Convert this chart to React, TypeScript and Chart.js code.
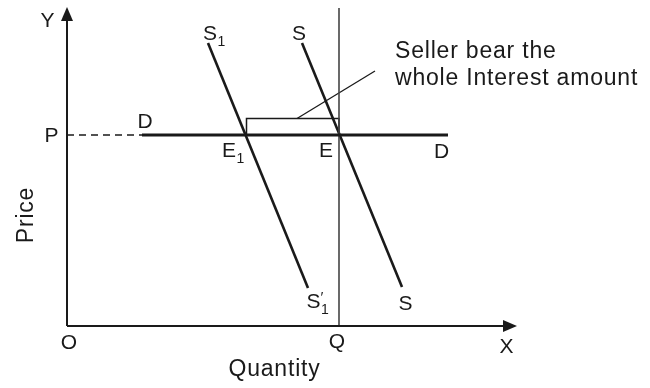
import React, { useEffect, useRef } from "react";
import { Chart, registerables } from "chart.js";

Chart.register(...registerables);

// Coordinate frame: origin O, units of the diagram
const X_RANGE = [-6.7, 58.3];
const Y_RANGE = [-6.2, 32.6];

const priceP = 19.1;
const quantityQ = 27.2;
const xAxisEnd = 45.0;
const yAxisEnd = 31.9;

const xAxisLine = [{ x: 0, y: 0 }, { x: 43.6, y: 0 }];
const yAxisLine = [{ x: 0, y: 0 }, { x: 0, y: 30.6 }];
const priceDashed = [{ x: 0, y: priceP }, { x: 7.5, y: priceP }];
const demandD = [{ x: 7.5, y: priceP }, { x: 38.1, y: priceP }];
const quantityLine = [{ x: quantityQ, y: 0 }, { x: quantityQ, y: 31.8 }];
const supplyS1 = [{ x: 14.1, y: 28.3 }, { x: 24.1, y: 3.8 }];
const supplyS = [{ x: 23.5, y: 28.3 }, { x: 33.5, y: 3.9 }];
const interestBox = [
  { x: 17.95, y: priceP },
  { x: 17.95, y: 20.75 },
  { x: quantityQ, y: 20.75 },
  { x: quantityQ, y: priceP },
];
const pointerLine = [{ x: 23.0, y: 20.75 }, { x: 30.8, y: 25.5 }];

const FONT = '"Liberation Sans", Arial, Helvetica, sans-serif';
const INK = "#1a1a1a";

type Label = { text: string; x: number; y: number; sub?: string; prime?: boolean; align?: CanvasTextAlign; size?: number; rotate?: boolean };

const labels: Label[] = [
  { text: "Y", x: -1.95, y: 29.9 },
  { text: "P", x: -1.55, y: 18.4 },
  { text: "D", x: 7.8, y: 19.8 },
  { text: "S", x: 14.3, y: 28.6, sub: "1" },
  { text: "S", x: 23.2, y: 28.6 },
  { text: "E", x: 16.2, y: 16.9, sub: "1" },
  { text: "E", x: 25.9, y: 16.9 },
  { text: "D", x: 37.45, y: 16.8 },
  { text: "O", x: 0.2, y: -2.3 },
  { text: "Q", x: 27.0, y: -2.2 },
  { text: "X", x: 43.95, y: -2.7 },
  { text: "S", x: 33.85, y: 1.6 },
  { text: "S", x: 24.65, y: 1.8, sub: "1", prime: true },
  { text: "Seller bear the", x: 32.8, y: 26.8, align: "left", size: 23 },
  { text: "whole Interest amount", x: 32.8, y: 24.1, align: "left", size: 23 },
  { text: "Quantity", x: 20.75, y: -5.0, size: 23 },
  { text: "Price", x: -3.45, y: 11.1, size: 23, rotate: true },
];

const decorPlugin = {
  id: "decor",
  afterDatasetsDraw(chart: any) {
    const ctx = chart.ctx as CanvasRenderingContext2D & { letterSpacing?: string };
    const xs = chart.scales.x;
    const ys = chart.scales.y;
    const px = (v: number) => xs.getPixelForValue(v);
    const py = (v: number) => ys.getPixelForValue(v);
    ctx.save();
    ctx.fillStyle = INK;
    // Y arrowhead
    const yt = py(yAxisEnd);
    const x0 = px(0);
    ctx.beginPath();
    ctx.moveTo(x0, yt);
    ctx.lineTo(x0 - 6, yt + 14);
    ctx.lineTo(x0 + 6, yt + 14);
    ctx.closePath();
    ctx.fill();
    // X arrowhead
    const xt = px(xAxisEnd);
    const y0 = py(0);
    ctx.beginPath();
    ctx.moveTo(xt, y0);
    ctx.lineTo(xt - 14, y0 - 6);
    ctx.lineTo(xt - 14, y0 + 6);
    ctx.closePath();
    ctx.fill();

    for (const l of labels) {
      const size = l.size ?? 21;
      ctx.font = `${size}px ${FONT}`;
      ctx.letterSpacing = size >= 22 ? "0.8px" : "0px";
      const lx = px(l.x);
      const ly = py(l.y);
      if (l.rotate) {
        ctx.save();
        ctx.translate(lx, ly);
        ctx.rotate(-Math.PI / 2);
        ctx.textAlign = "center";
        ctx.textBaseline = "alphabetic";
        ctx.fillText(l.text, 0, 0);
        ctx.restore();
        continue;
      }
      ctx.textAlign = l.align ?? "center";
      ctx.textBaseline = "alphabetic";
      ctx.fillText(l.text, lx, ly);
      const w = ctx.measureText(l.text).width;
      const right = (l.align === "left") ? lx + w : lx + w / 2;
      ctx.letterSpacing = "0px";
      if (l.prime) {
        ctx.font = `${15}px ${FONT}`;
        ctx.textAlign = "left";
        ctx.fillText("\u2032", right, ly - 6);
      }
      if (l.sub) {
        ctx.font = `${14}px ${FONT}`;
        ctx.textAlign = "left";
        ctx.fillText(l.sub, right + 0.5, ly + 6);
      }
    }
    ctx.restore();
  },
};

function lineSet(data: { x: number; y: number }[], width: number, color = INK, dash: number[] = []) {
  return {
    data,
    showLine: true,
    borderColor: color,
    borderWidth: width,
    borderDash: dash,
    pointRadius: 0,
    fill: false,
    tension: 0,
    borderCapStyle: "butt" as const,
    borderJoinStyle: "miter" as const,
  };
}

export default function App() {
  const ref = useRef<HTMLCanvasElement>(null);
  useEffect(() => {
    if (!ref.current) return;
    const chart = new Chart(ref.current, {
      type: "scatter",
      data: {
        datasets: [
          lineSet(xAxisLine, 2),
          lineSet(yAxisLine, 2),
          lineSet(priceDashed, 1.5, INK, [7, 5]),
          lineSet(demandD, 3),
          lineSet(quantityLine, 1.6, "#444"),
          lineSet(supplyS1, 2.6),
          lineSet(supplyS, 2.6),
          lineSet(interestBox, 1.5),
          lineSet(pointerLine, 1.3),
        ] as any,
      },
      options: {
        responsive: false,
        animation: false,
        layout: { padding: 0 },
        plugins: { legend: { display: false }, tooltip: { enabled: false } },
        events: [],
        scales: {
          x: { type: "linear", display: false, min: X_RANGE[0], max: X_RANGE[1] },
          y: { type: "linear", display: false, min: Y_RANGE[0], max: Y_RANGE[1] },
        },
      },
      plugins: [decorPlugin],
    });
    return () => chart.destroy();
  }, []);
  return (
    <div style={{ position: "fixed", left: 0, top: 0, width: 650, height: 388, background: "#fff" }}>
      <canvas ref={ref} width={650} height={388} style={{ display: "block" }} />
    </div>
  );
}
